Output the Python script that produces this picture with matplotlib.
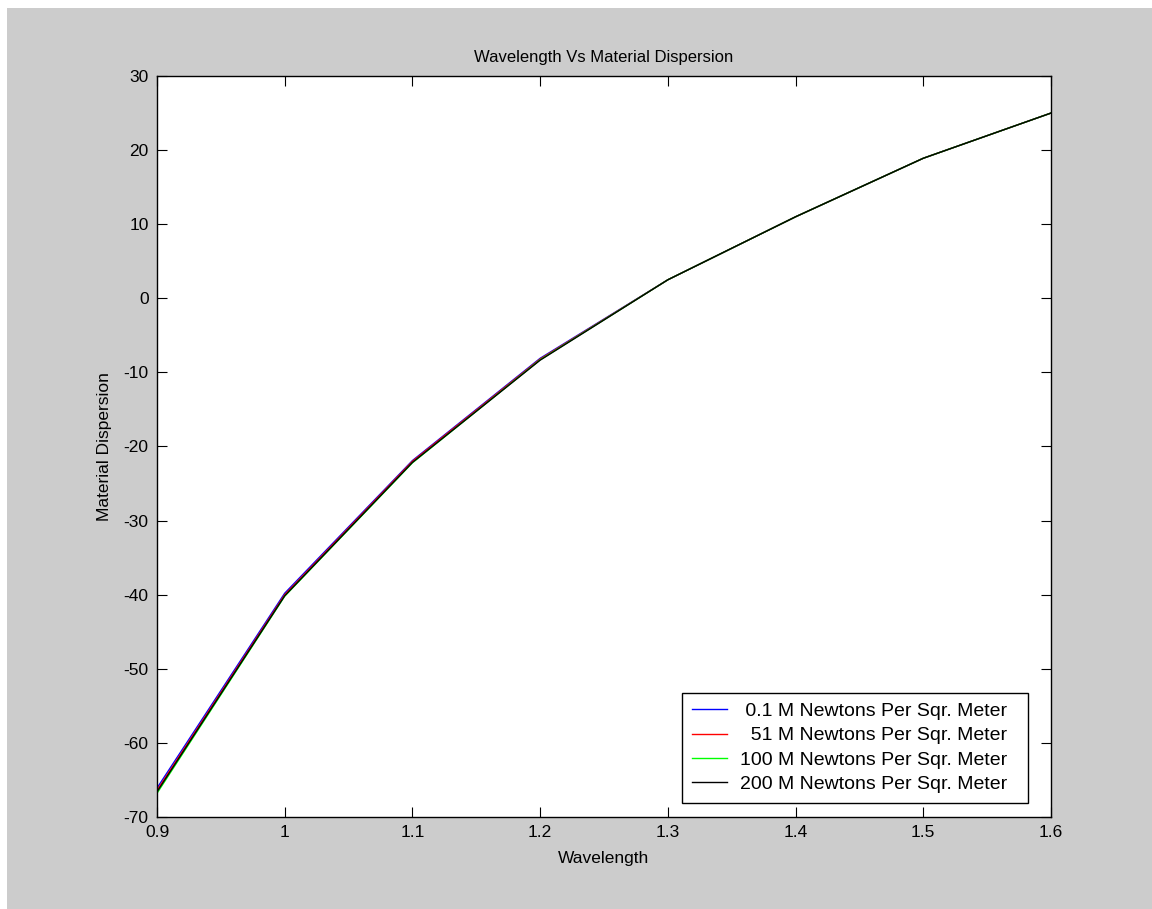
import matplotlib
matplotlib.use('Agg')
import matplotlib.pyplot as plt
from matplotlib.patches import Rectangle

# wavelength (um) and material dispersion for each stress level
wavelength = [0.9, 1.0, 1.1, 1.2, 1.3, 1.4, 1.5, 1.6]
disp_01 = [-66.1, -39.8, -21.9, -8.1, 2.5, 11.0, 18.9, 25.0]
disp_51 = [-66.4, -40.0, -22.0, -8.2, 2.5, 11.0, 18.9, 25.0]
disp_100 = [-66.8, -40.2, -22.2, -8.3, 2.5, 11.0, 18.9, 25.0]
disp_200 = [-66.6, -40.15, -22.15, -8.35, 2.5, 11.0, 18.9, 25.0]
labels = [' 0.1 M Newtons Per Sqr. Meter  ',
          '  51 M Newtons Per Sqr. Meter  ',
          '100 M Newtons Per Sqr. Meter  ',
          '200 M Newtons Per Sqr. Meter  ']
colors = ['#0000ff', '#ff0000', '#00ff00', '#000000']

plt.rcParams['font.family'] = ['Liberation Sans', 'DejaVu Sans']
plt.rcParams['font.size'] = 12.5
plt.rcParams['axes.unicode_minus'] = False

W, H = 1152, 909
fig = plt.figure(figsize=(W / 100, H / 100), dpi=100, facecolor='white')
# grey MATLAB figure area, thin white strip top and left
fig.patches.append(Rectangle((7 / W, 0), 1 - 7 / W, 1 - 8 / H,
                             transform=fig.transFigure, facecolor='#cccccc',
                             edgecolor='none', zorder=-10))

ax = fig.add_axes([157 / W, 1 - 817 / H, 894 / W, 741 / H])
ax.set_facecolor('white')

series = [disp_01, disp_51, disp_100, disp_200]
for ys, c, lab in zip(series, colors, labels):
    ax.plot(wavelength, ys, color=c, lw=1.0, label=lab)

ax.set_xlim(0.9, 1.6)
ax.set_ylim(-70, 30)
ax.set_xticks([0.9, 1.0, 1.1, 1.2, 1.3, 1.4, 1.5, 1.6])
ax.set_xticklabels(['0.9', '1', '1.1', '1.2', '1.3', '1.4', '1.5', '1.6'])
ax.set_yticks(range(-70, 31, 10))
ax.tick_params(direction='in', length=7, width=0.8, top=True, right=True,
               pad=6, colors='black')
for s in ax.spines.values():
    s.set_linewidth(1.0)
    s.set_color('black')

ax.set_title('Wavelength Vs Material Dispersion', pad=10, fontsize=12)
ax.set_xlabel('Wavelength', labelpad=8)
ax.set_ylabel('Material Dispersion', labelpad=8)

leg = ax.legend(loc='lower right', bbox_to_anchor=(0.974, 0.019),
                borderaxespad=0, fancybox=False, framealpha=1,
                edgecolor='black', fontsize=14, handlelength=1.8,
                handletextpad=0.67, labelspacing=0.35, borderpad=0.5)
leg.get_frame().set_linewidth(1.0)

fig.savefig('out.png', dpi=100, facecolor=fig.get_facecolor())
